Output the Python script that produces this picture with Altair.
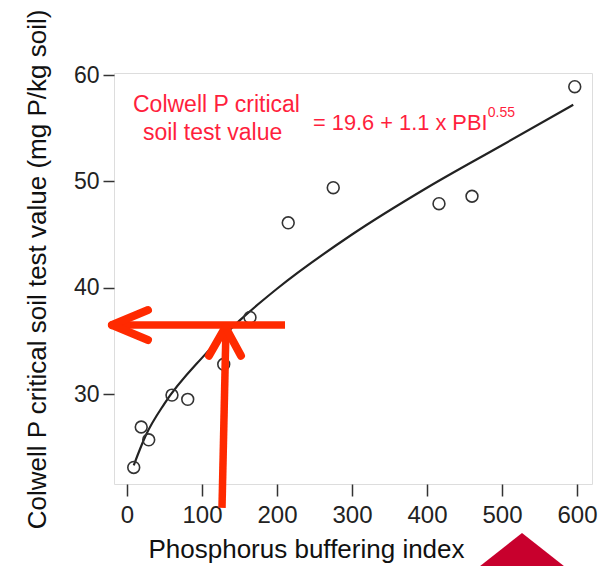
import altair as alt
import pandas as pd

# Observed data points
pbi = [9, 19, 29, 60, 81, 129, 164, 215, 275, 416, 460, 597]
colwell = [23.1, 26.9, 25.7, 29.9, 29.5, 32.8, 37.2, 46.1, 49.4, 47.9, 48.6, 58.9]

# Fitted curve
curve_pbi = [9, 25, 50, 100, 150, 200, 300, 400, 500, 595]
curve_val = [23.3, 26.1, 29.1, 33.4, 36.9, 39.9, 45.0, 49.4, 53.4, 57.2]

x_ticks = [0, 100, 200, 300, 400, 500, 600]
y_ticks = [30, 40, 50, 60]

# Red arrow annotation (data units)
shaft_x = [210.7, 126.7]
shaft_y = [36.49, 19.3]
shaft_x2 = [-20.0, 132.0]
shaft_y2 = [36.49, 36.2]

arm_x = [-20.0, -20.0, 131.3, 131.3]
arm_y = [36.49, 36.49, 36.3, 36.3]
arm_x2 = [28.0, 28.0, 109.3, 152.0]
arm_y2 = [37.9, 35.08, 33.6, 33.6]

# Text annotation
label_text = ["Colwell P critical", "soil test value", "= 19.6 + 1.1 x PBI"]
label_x = [8.0, 21.3, 248.0]
label_y = [56.52, 53.89, 54.83]
label_size = [23, 23, 21.8]
sup_text = ["0.55"]
sup_x = [481.0]
sup_y = [56.05]

tri_x = [526.7]
tri_y = [16.93]

pts = pd.DataFrame({"x": pbi, "y": colwell})
curve = pd.DataFrame({"x": curve_pbi, "y": curve_val})
shafts = pd.DataFrame({"x": shaft_x, "y": shaft_y, "x2": shaft_x2, "y2": shaft_y2})
arms = pd.DataFrame({"x": arm_x, "y": arm_y, "x2": arm_x2, "y2": arm_y2})
labels = pd.DataFrame({"x": label_x, "y": label_y, "t": label_text, "s": label_size})
sups = pd.DataFrame({"x": sup_x, "y": sup_y, "t": sup_text})
tri = pd.DataFrame({"x": tri_x, "y": tri_y})

xscale = alt.Scale(domain=[-17.3, 620], nice=False, zero=False)
yscale = alt.Scale(domain=[21.54, 60.19], nice=False, zero=False)

xaxis = alt.Axis(
    values=x_ticks, title="Phosphorus buffering index", domain=False, grid=False,
    tickSize=12, tickWidth=1.5, tickColor="#333333",
    labelFontSize=24, labelPadding=7, labelColor="#222222",
    titleFontSize=26, titleFontWeight="normal", titleColor="#111111",
    titleX=192, titleY=73, titleBaseline="alphabetic", titleAlign="center",
)
yaxis = alt.Axis(
    values=y_ticks, title="Colwell P critical soil test value (mg P/kg soil)",
    domain=False, grid=False,
    tickSize=11, tickWidth=1.5, tickColor="#333333",
    labelFontSize=23, labelPadding=4, labelColor="#222222",
    titleFontSize=26, titleFontWeight="normal", titleColor="#111111",
    titleX=-69, titleY=196, titleBaseline="alphabetic", titleAlign="center", titleAngle=270,
)

X = alt.X("x:Q", scale=xscale, axis=xaxis)
Y = alt.Y("y:Q", scale=yscale, axis=yaxis)

curve_layer = alt.Chart(curve).mark_line(
    color="#222222", strokeWidth=2.2, interpolate="monotone"
).encode(x=X, y=Y)

pts_layer = alt.Chart(pts).mark_point(
    shape="circle", filled=False, size=140, color="#333333", strokeWidth=1.6, opacity=1
).encode(x=X, y=Y)

shaft_layer = alt.Chart(shafts).mark_rule(
    color="#ff2a00", strokeWidth=7.5, strokeCap="butt"
).encode(x=X, y=Y, x2="x2:Q", y2="y2:Q")

arm_layer = alt.Chart(arms).mark_rule(
    color="#ff2a00", strokeWidth=8, strokeCap="round"
).encode(x=X, y=Y, x2="x2:Q", y2="y2:Q")

text_layer = alt.Chart(labels).mark_text(
    align="left", baseline="alphabetic", color="#ff1f3d", font="Liberation Sans"
).encode(x=X, y=Y, text="t:N", size=alt.Size("s:Q", scale=None, legend=None))

sup_layer = alt.Chart(sups).mark_text(
    align="left", baseline="alphabetic", fontSize=14, color="#ff1f3d", font="Liberation Sans"
).encode(x=X, y=Y, text="t:N")

tri_layer = alt.Chart(tri).mark_point(
    shape="M0,0L1.27,1L-1.27,1Z", size=6400, filled=True, color="#c8002d", opacity=1
).encode(x=X, y=Y)

chart = alt.layer(
    curve_layer, pts_layer, text_layer, sup_layer, shaft_layer, arm_layer, tri_layer
).properties(
    width=478, height=411,
    autosize=alt.AutoSizeParams(type="none"),
    padding={"left": 114, "top": 73, "right": 20, "bottom": 82},
).configure_view(
    stroke="#333333", strokeWidth=1.5
).configure(
    font="Liberation Sans", background="white"
)

chart.save("out.html", embed_options={"renderer": "svg", "actions": False})
